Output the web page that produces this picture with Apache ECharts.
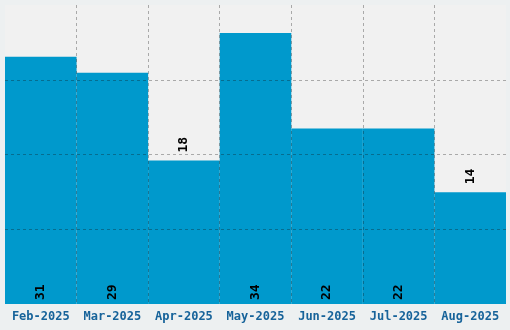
<!DOCTYPE html>
<html>
<head>
<meta charset="utf-8">
<script src="https://cdn.jsdelivr.net/npm/echarts@6/dist/echarts.min.js"></script>
<style>
  html, body { margin: 0; padding: 0; background: #edf0f1; }
  #chart { width: 510px; height: 330px; }
</style>
</head>
<body>
<div id="chart"></div>
<script>
// months on the x axis
var months = ['Feb-2025', 'Mar-2025', 'Apr-2025', 'May-2025', 'Jun-2025', 'Jul-2025', 'Aug-2025'];
// bar values
var counts = [31, 29, 18, 34, 22, 22, 14];
// where each value label goes (short bars get it above)
var labelPlaces = ['insideBottom', 'insideBottom', 'top', 'insideBottom', 'insideBottom', 'insideBottom', 'top'];

var chart = echarts.init(document.getElementById('chart'));

var barData = counts.map(function (v, i) {
    var inside = labelPlaces[i] !== 'top';
    return {
        value: v,
        label: {
            position: labelPlaces[i],
            distance: inside ? 4 : 8
        }
    };
});

// dashed grid, drawn over the bars
var gridLine = { color: 'rgba(20,20,20,0.32)', type: [3, 3], width: 1 };

var option = {
    backgroundColor: '#edf0f1',
    animation: false,
    grid: {
        left: 5, right: 4, top: 5, bottom: 26,
        show: true,
        backgroundColor: '#f1f1f1',
        borderWidth: 0,
        containLabel: false
    },
    xAxis: {
        type: 'category',
        data: months,
        z: 3,
        axisLine: { show: false },
        axisTick: { show: false },
        axisLabel: {
            interval: 0,
            hideOverlap: false,
            color: '#17639a',
            fontFamily: 'DejaVu Sans Mono',
            fontWeight: 'bold',
            fontSize: 12,
            margin: 7
        },
        splitLine: {
            show: true,
            interval: 0,
            showMinLine: false,
            showMaxLine: false,
            lineStyle: gridLine
        }
    },
    yAxis: {
        type: 'value',
        min: 0,
        max: 37.5,
        interval: 9.375,
        z: 3,
        axisLine: { show: false },
        axisTick: { show: false },
        axisLabel: { show: false },
        splitLine: {
            show: true,
            showMinLine: false,
            showMaxLine: false,
            lineStyle: gridLine
        }
    },
    series: [{
        type: 'bar',
        data: barData,
        barCategoryGap: 0,
        itemStyle: { color: '#0099cc' },
        label: {
            show: true,
            rotate: 90,
            align: 'left',
            verticalAlign: 'middle',
            color: '#000',
            fontFamily: 'DejaVu Sans Mono',
            fontWeight: 'bold',
            fontSize: 13
        }
    }]
};

chart.setOption(option);
</script>
</body>
</html>
